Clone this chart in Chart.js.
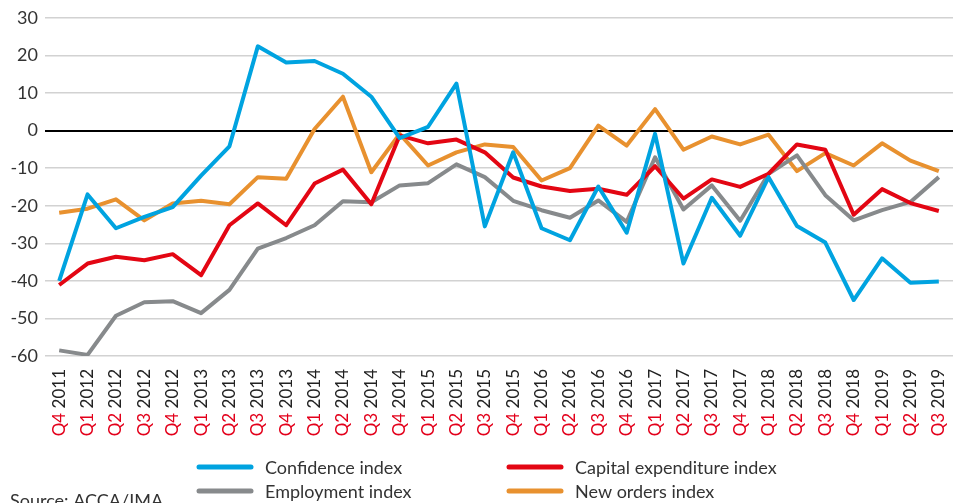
<!DOCTYPE html>
<html>
<head>
<meta charset="utf-8">
<script src="https://cdn.jsdelivr.net/npm/chart.js@4"></script>
<style>
  html, body { margin: 0; padding: 0; background: #fff; }
  #wrap { width: 962px; height: 503px; position: relative; }
</style>
</head>
<body>
<div id="wrap"><canvas id="grafico"></canvas></div>
<script>
const trimestres = ['Q4 2011',
  'Q1 2012', 'Q2 2012', 'Q3 2012', 'Q4 2012',
  'Q1 2013', 'Q2 2013', 'Q3 2013', 'Q4 2013',
  'Q1 2014', 'Q2 2014', 'Q3 2014', 'Q4 2014',
  'Q1 2015', 'Q2 2015', 'Q3 2015', 'Q4 2015',
  'Q1 2016', 'Q2 2016', 'Q3 2016', 'Q4 2016',
  'Q1 2017', 'Q2 2017', 'Q3 2017', 'Q4 2017',
  'Q1 2018', 'Q2 2018', 'Q3 2018', 'Q4 2018',
  'Q1 2019', 'Q2 2019', 'Q3 2019'];

const confianca = [-40, -17, -26, -23, -20.4, -12, -4.2, 22.4, 18.1, 18.5, 15.1, 9, -2, 1, 12.5,
  -25.5, -5.8, -26, -29.2, -14.9, -27.2, -0.9, -35.4, -17.9, -28, -12.4, -25.4, -29.8, -45.1, -34, -40.5, -40.2];
const investimento = [-41.1, -35.4, -33.6, -34.5, -32.9, -38.5, -25.2, -19.4, -25.2, -14.1, -10.4, -19.6, -1.3, -3.4, -2.4,
  -5.8, -12.5, -14.9, -16.1, -15.5, -17.1, -9.5, -18.1, -13, -15, -11.5, -3.7, -5.1, -22.4, -15.6, -19.3, -21.4];
const emprego = [-58.5, -59.7, -49.3, -45.7, -45.4, -48.6, -42.4, -31.4, -28.6, -25.2, -18.8, -19.1, -14.6, -14, -9,
  -12.4, -18.7, -21.2, -23.2, -18.6, -24.3, -7.1, -21, -14.6, -24, -11.5, -6.6, -17.2, -23.9, -21.2, -19, -12.4];
const pedidos = [-21.9, -20.8, -18.3, -23.9, -19.4, -18.7, -19.6, -12.4, -12.8, 0.4, 9, -11.1, -0.9, -9.3, -5.8,
  -3.7, -4.4, -13.3, -10, 1.3, -4, 5.7, -5.1, -1.6, -3.7, -1.1, -10.8, -6, -9.3, -3.4, -8, -10.8];

const ticksY = [30, 20, 10, 0, -10, -20, -30, -40, -50, -60];
const fonte = 'Lato, "Open Sans", sans-serif';

// rótulos do eixo x em duas cores (trimestre vermelho, ano preto)
const rotulosX = {
  id: 'rotulosX',
  afterDraw(chart) {
    const ctx = chart.ctx;
    const x = chart.scales.x;
    ctx.save();
    ctx.font = '17px ' + fonte;
    ctx.textBaseline = 'middle';
    trimestres.forEach((t, i) => {
      const [q, ano] = t.split(' ');
      const px = x.getPixelForValue(i);
      const wq = ctx.measureText(q + ' ').width;
      const wa = ctx.measureText(ano).width;
      ctx.save();
      ctx.translate(px, 369);
      ctx.rotate(-Math.PI / 2);
      ctx.textAlign = 'left';
      ctx.fillStyle = '#e3001b';
      ctx.fillText(q, -(wq + wa), 0);
      ctx.fillStyle = '#222';
      ctx.fillText(ano, -wa, 0);
      ctx.restore();
    });
    ctx.restore();
  }
};

// legenda em duas colunas + fonte
const legenda = {
  id: 'legenda',
  afterDraw(chart) {
    const ctx = chart.ctx;
    const ds = chart.data.datasets;
    const pos = [[197, 467], [507, 467], [197, 491], [507, 491]];
    ctx.save();
    ctx.font = '18px ' + fonte;
    ctx.textBaseline = 'middle';
    ctx.lineCap = 'round';
    ds.forEach((d, i) => {
      const [lx, ly] = pos[i];
      ctx.strokeStyle = d.borderColor;
      ctx.lineWidth = 5;
      ctx.beginPath();
      ctx.moveTo(lx + 2, ly);
      ctx.lineTo(lx + 54, ly);
      ctx.stroke();
      ctx.fillStyle = '#333';
      ctx.fillText(d.label, lx + 68, ly + 1);
    });
    ctx.textBaseline = 'alphabetic';
    ctx.fillText('Source: ACCA/IMA', 10, 507);
    ctx.restore();
  }
};

new Chart(document.getElementById('grafico'), {
  type: 'line',
  data: {
    labels: trimestres,
    datasets: [
      { label: 'Confidence index', data: confianca, borderColor: '#00a3e0' },
      { label: 'Capital expenditure index', data: investimento, borderColor: '#e30613' },
      { label: 'Employment index', data: emprego, borderColor: '#878a8c' },
      { label: 'New orders index', data: pedidos, borderColor: '#e8912f' }
    ]
  },
  options: {
    responsive: true,
    maintainAspectRatio: false,
    animation: false,
    layout: { padding: { top: 17, right: 9, left: 0, bottom: 0 } },
    elements: {
      point: { radius: 0 },
      line: { borderWidth: 4, tension: 0, borderJoinStyle: 'round' }
    },
    plugins: {
      legend: { display: false },
      tooltip: { enabled: false }
    },
    scales: {
      x: {
        offset: true,
        grid: { display: false },
        border: { display: false },
        ticks: { display: false },
        afterFit: (s) => { s.height = 147; }
      },
      y: {
        min: -60,
        max: 30,
        afterBuildTicks: (s) => { s.ticks = ticksY.map(v => ({ value: v })); },
        afterFit: (s) => { s.width = 45; },
        border: { display: false },
        grid: {
          drawTicks: false,
          color: (c) => c.tick && c.tick.value === 0 ? '#000' : '#d2d2d2',
          lineWidth: (c) => c.tick && c.tick.value === 0 ? 2 : 1.5
        },
        ticks: {
          padding: 7,
          color: '#333',
          font: { family: fonte, size: 18 }
        }
      }
    }
  },
  plugins: [rotulosX, legenda]
});
</script>
</body>
</html>
